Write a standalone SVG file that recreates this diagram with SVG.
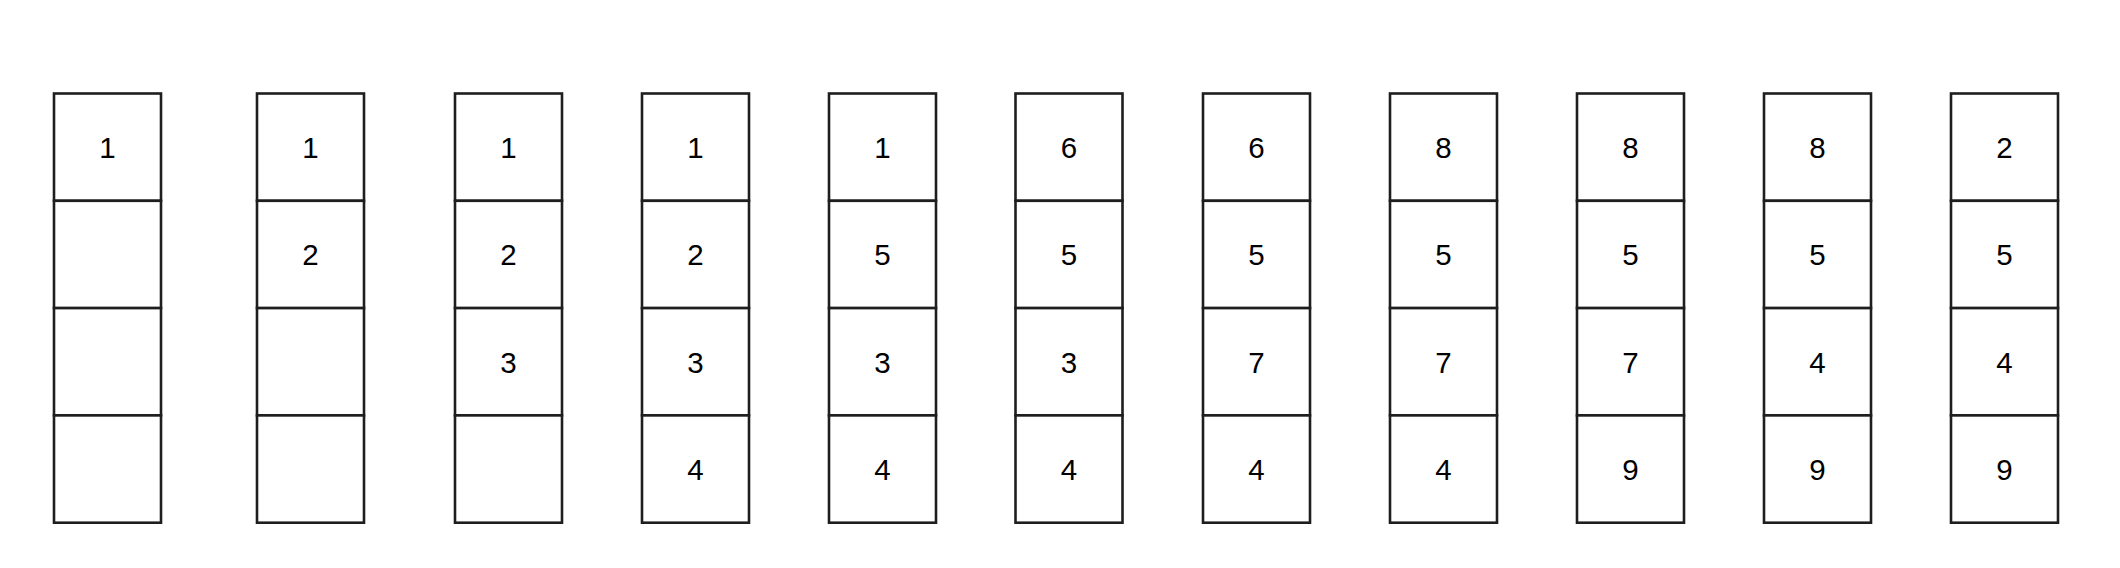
<svg xmlns="http://www.w3.org/2000/svg" width="2120" height="568" viewBox="0 0 2120 568">
<style>
.c{fill:#ffffff;stroke:#1e1e1e;stroke-width:2.6}
.t{font-family:"Liberation Sans",Arial,sans-serif;font-size:29.5px;fill:#000000;text-anchor:middle}
</style>
<rect x="0" y="0" width="2120" height="568" fill="#ffffff"/>
<defs>
<g id="stack">
<rect class="c" x="0" y="0" width="107" height="107.3"/>
<rect class="c" x="0" y="107.3" width="107" height="107.3"/>
<rect class="c" x="0" y="214.6" width="107" height="107.3"/>
<rect class="c" x="0" y="321.9" width="107" height="107.3"/>
</g>
</defs>
<g id="connectors"/>
<g id="col1" transform="translate(54,93.5)"><use href="#stack"/>
<text class="t" x="53.5" y="64.6">1</text></g>
<g id="col2" transform="translate(257,93.5)"><use href="#stack"/>
<text class="t" x="53.5" y="64.6">1</text><text class="t" x="53.5" y="171.9">2</text></g>
<g id="col3" transform="translate(455,93.5)"><use href="#stack"/>
<text class="t" x="53.5" y="64.6">1</text><text class="t" x="53.5" y="171.9">2</text><text class="t" x="53.5" y="279.2">3</text></g>
<g id="col4" transform="translate(642,93.5)"><use href="#stack"/>
<text class="t" x="53.5" y="64.6">1</text><text class="t" x="53.5" y="171.9">2</text><text class="t" x="53.5" y="279.2">3</text><text class="t" x="53.5" y="386.5">4</text></g>
<g id="col5" transform="translate(829,93.5)"><use href="#stack"/>
<text class="t" x="53.5" y="64.6">1</text><text class="t" x="53.5" y="171.9">5</text><text class="t" x="53.5" y="279.2">3</text><text class="t" x="53.5" y="386.5">4</text></g>
<g id="col6" transform="translate(1015.5,93.5)"><use href="#stack"/>
<text class="t" x="53.5" y="64.6">6</text><text class="t" x="53.5" y="171.9">5</text><text class="t" x="53.5" y="279.2">3</text><text class="t" x="53.5" y="386.5">4</text></g>
<g id="col7" transform="translate(1203,93.5)"><use href="#stack"/>
<text class="t" x="53.5" y="64.6">6</text><text class="t" x="53.5" y="171.9">5</text><text class="t" x="53.5" y="279.2">7</text><text class="t" x="53.5" y="386.5">4</text></g>
<g id="col8" transform="translate(1390,93.5)"><use href="#stack"/>
<text class="t" x="53.5" y="64.6">8</text><text class="t" x="53.5" y="171.9">5</text><text class="t" x="53.5" y="279.2">7</text><text class="t" x="53.5" y="386.5">4</text></g>
<g id="col9" transform="translate(1577,93.5)"><use href="#stack"/>
<text class="t" x="53.5" y="64.6">8</text><text class="t" x="53.5" y="171.9">5</text><text class="t" x="53.5" y="279.2">7</text><text class="t" x="53.5" y="386.5">9</text></g>
<g id="col10" transform="translate(1764,93.5)"><use href="#stack"/>
<text class="t" x="53.5" y="64.6">8</text><text class="t" x="53.5" y="171.9">5</text><text class="t" x="53.5" y="279.2">4</text><text class="t" x="53.5" y="386.5">9</text></g>
<g id="col11" transform="translate(1951,93.5)"><use href="#stack"/>
<text class="t" x="53.5" y="64.6">2</text><text class="t" x="53.5" y="171.9">5</text><text class="t" x="53.5" y="279.2">4</text><text class="t" x="53.5" y="386.5">9</text></g>
</svg>
